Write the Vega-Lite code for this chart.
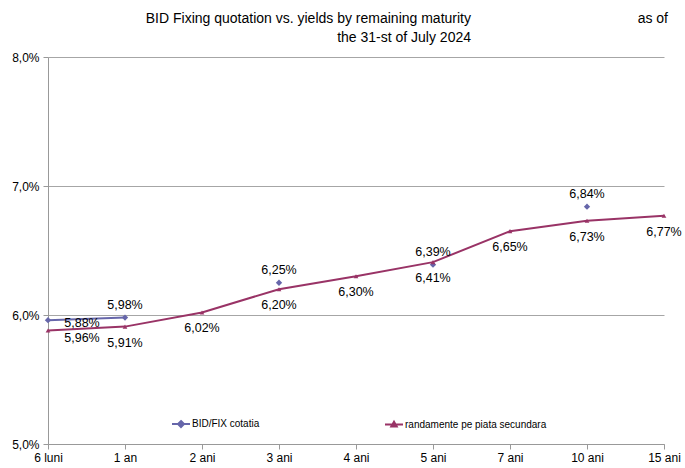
{
  "$schema": "https://vega.github.io/schema/vega-lite/v6.json",
  "autosize": "none",
  "width": 616,
  "height": 387,
  "padding": {"left": 48, "top": 57, "right": 21, "bottom": 24},
  "config": {
    "locale": {"number": {"decimal": ",", "thousands": ".", "grouping": [3], "currency": ["", " €"]}},
    "font": "Liberation Sans",
    "view": {"stroke": null},
    "axis": {"labelFont": "Liberation Sans", "labelColor": "#000", "labelFontSize": 12, "domainColor": "#999", "tickColor": "#999", "tickSize": 5}
  },
  "title": {
    "text": ["BID Fixing quotation vs. yields by remaining maturity", "the 31-st of July 2024"],
    "anchor": "end",
    "align": "right",
    "frame": "group",
    "dx": -193,
    "dy": 43,
    "offset": 10,
    "fontSize": 14,
    "fontWeight": "normal",
    "font": "Liberation Sans",
    "color": "#000",
    "lineHeight": 19
  },
  "data": {
    "values": [
      {"m": "6 luni", "s": "BID/FIX cotatia", "v": 0.0596},
      {"m": "1 an", "s": "BID/FIX cotatia", "v": 0.0598},
      {"m": "2 ani", "s": "BID/FIX cotatia", "v": null},
      {"m": "3 ani", "s": "BID/FIX cotatia", "v": 0.0625},
      {"m": "4 ani", "s": "BID/FIX cotatia", "v": null},
      {"m": "5 ani", "s": "BID/FIX cotatia", "v": 0.0639},
      {"m": "7 ani", "s": "BID/FIX cotatia", "v": null},
      {"m": "10 ani", "s": "BID/FIX cotatia", "v": 0.0684},
      {"m": "15 ani", "s": "BID/FIX cotatia", "v": null},
      {"m": "6 luni", "s": "randamente pe piata secundara", "v": 0.0588},
      {"m": "1 an", "s": "randamente pe piata secundara", "v": 0.0591},
      {"m": "2 ani", "s": "randamente pe piata secundara", "v": 0.0602},
      {"m": "3 ani", "s": "randamente pe piata secundara", "v": 0.0620},
      {"m": "4 ani", "s": "randamente pe piata secundara", "v": 0.0630},
      {"m": "5 ani", "s": "randamente pe piata secundara", "v": 0.0641},
      {"m": "7 ani", "s": "randamente pe piata secundara", "v": 0.0665},
      {"m": "10 ani", "s": "randamente pe piata secundara", "v": 0.0673},
      {"m": "15 ani", "s": "randamente pe piata secundara", "v": 0.0677}
    ]
  },
  "encoding": {
    "x": {
      "field": "m", "type": "nominal",
      "sort": ["6 luni", "1 an", "2 ani", "3 ani", "4 ani", "5 ani", "7 ani", "10 ani", "15 ani"],
      "scale": {"type": "point", "padding": 0},
      "axis": {"title": null, "labelAngle": 0, "labelPadding": 3, "grid": false}
    },
    "y": {
      "field": "v", "type": "quantitative",
      "scale": {"domain": [0.05, 0.08], "nice": false, "zero": false},
      "axis": {"title": null, "values": [0.05, 0.06, 0.07, 0.08], "format": ".1%", "grid": true, "gridColor": "#a6a6a6", "labelPadding": 4}
    }
  },
  "layer": [
    {
      "mark": {"type": "line", "strokeWidth": 2, "invalid": "break-paths-show-domains"},
      "encoding": {
        "color": {
          "field": "s", "type": "nominal",
          "scale": {"domain": ["BID/FIX cotatia", "randamente pe piata secundara"], "range": ["#6666aa", "#993366"]},
          "legend": {
            "title": null, "orient": "none", "legendX": 123, "legendY": 357, "direction": "horizontal",
            "labelFontSize": 10, "labelFont": "Liberation Sans", "labelColor": "#000", "labelOffset": 1,
            "symbolSize": 324, "symbolStrokeWidth": 2, "columnPadding": 121, "padding": 0,
            "encode": {
              "symbols": {
                "update": {
                  "shape": {"signal": "datum.value === 'BID/FIX cotatia' ? 'M-1,0L1,0M0,-0.33L0.33,0L0,0.33L-0.33,0Z' : 'M-1,0L1,0M0,-0.3L0.3,0.22L-0.3,0.22Z'"},
                  "fill": {"signal": "datum.value === 'BID/FIX cotatia' ? '#6666aa' : '#993366'"}
                }
              }
            }
          }
        }
      }
    },
    {
      "transform": [{"filter": "datum.s === 'BID/FIX cotatia'"}],
      "mark": {"type": "point", "filled": true, "opacity": 1, "shape": "diamond", "size": 40, "color": "#6666aa"}
    },
    {
      "transform": [{"filter": "datum.s !== 'BID/FIX cotatia'"}],
      "mark": {"type": "point", "filled": true, "opacity": 1, "shape": "triangle-up", "size": 22, "color": "#993366"}
    },
    {
      "transform": [{"filter": "datum.s === 'BID/FIX cotatia' && datum.m !== '6 luni' && isValid(datum.v)"}],
      "mark": {"type": "text", "dy": -13, "fontSize": 12.5, "color": "#000", "font": "Liberation Sans"},
      "encoding": {"text": {"field": "v", "type": "quantitative", "format": ".2%"}}
    },
    {
      "transform": [{"filter": "datum.s !== 'BID/FIX cotatia' && datum.m !== '6 luni'"}],
      "mark": {"type": "text", "dy": 16, "fontSize": 12.5, "color": "#000", "font": "Liberation Sans"},
      "encoding": {"text": {"field": "v", "type": "quantitative", "format": ".2%"}}
    },
    {
      "transform": [{"filter": "datum.s === 'BID/FIX cotatia' && datum.m === '6 luni'"}],
      "mark": {"type": "text", "dx": 34, "dy": 18, "fontSize": 12.5, "color": "#000", "font": "Liberation Sans"},
      "encoding": {"text": {"field": "v", "type": "quantitative", "format": ".2%"}}
    },
    {
      "transform": [{"filter": "datum.s !== 'BID/FIX cotatia' && datum.m === '6 luni'"}],
      "mark": {"type": "text", "dx": 34, "dy": -7, "fontSize": 12.5, "color": "#000", "font": "Liberation Sans"},
      "encoding": {"text": {"field": "v", "type": "quantitative", "format": ".2%"}}
    },
    {
      "transform": [{"filter": "datum.s === 'randamente pe piata secundara' && datum.m === '15 ani'"}],
      "mark": {"type": "text", "align": "right", "baseline": "alphabetic", "dx": 4, "dy": -34, "fontSize": 14, "fontWeight": "normal", "color": "#000", "font": "Liberation Sans"},
      "encoding": {
        "x": {"datum": "15 ani"},
        "y": {"datum": 0.08},
        "text": {"value": "as of"}
      }
    }
  ]
}
